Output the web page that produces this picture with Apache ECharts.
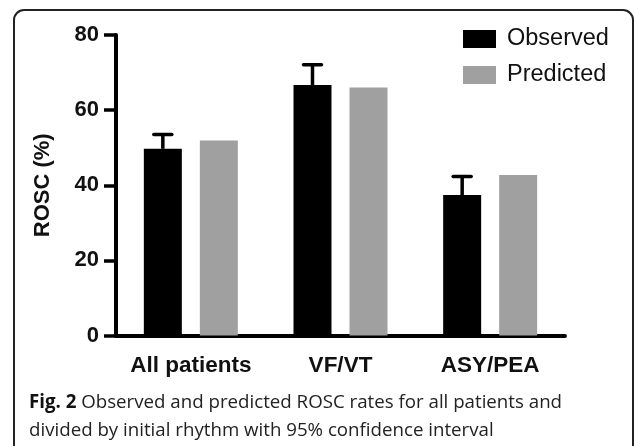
<!DOCTYPE html>
<html>
<head>
<meta charset="utf-8">
<script src="https://cdn.jsdelivr.net/npm/echarts@6/dist/echarts.min.js"></script>
<style>
html,body{margin:0;padding:0;background:#fff;}
#chart{width:634px;height:446px;}
</style>
</head>
<body>
<div id="chart"></div>
<script>
// ---- data ----
const categories = ['All patients', 'VF/VT', 'ASY/PEA'];
const observed = [49.7, 66.7, 37.4];
const observedUpperCI = [53.5, 72.1, 42.3];
const predicted = [51.9, 66.0, 42.7];
const yTicks = [0, 20, 40, 60, 80];
const seriesNames = ['Observed', 'Predicted'];
const captionBold = 'Fig. 2';
const captionLine1 = 'Observed and predicted ROSC rates for all patients and';
const captionLine2 = 'divided by initial rhythm with 95% confidence interval';

// ---- style constants ----
const BAR_W = 38;
const GAP_PX = 18;
const OBS_OFFSET = -(BAR_W + GAP_PX) / 2;

const chart = echarts.init(document.getElementById('chart'));

const errData = categories.map((c, i) => [i, observedUpperCI[i], observed[i]]);

const option = {
  animation: false,
  backgroundColor: '#fff',
  grid: { left: 116, right: 69, top: 35, bottom: 110.5 },
  legend: {
    orient: 'vertical',
    left: 463,
    top: 27,
    padding: 0,
    itemWidth: 33,
    itemHeight: 18,
    itemGap: 12,
    icon: 'rect',
    data: seriesNames,
    textStyle: { fontFamily: 'Liberation Sans', fontSize: 23.5, color: '#111', padding: [0, 0, 0, 6] }
  },
  xAxis: {
    type: 'category',
    data: categories,
    axisLine: { lineStyle: { color: '#000', width: 4 } },
    axisTick: { alignWithLabel: true, length: 12, lineStyle: { color: '#000', width: 4 } },
    axisLabel: { interval: 0, hideOverlap: false, margin: 19, color: '#111', fontFamily: 'Liberation Sans', fontWeight: 'bold', fontSize: 22.5 },
    splitLine: { show: false }
  },
  yAxis: {
    type: 'value',
    min: yTicks[0],
    max: yTicks[yTicks.length - 1],
    interval: yTicks[1] - yTicks[0],
    name: 'ROSC (%)',
    nameLocation: 'middle',
    nameGap: 62,
    nameTextStyle: { color: '#111', fontFamily: 'Liberation Sans', fontWeight: 'bold', fontSize: 22 },
    axisLine: { show: true, lineStyle: { color: '#000', width: 4 } },
    axisTick: { show: true, length: 12, lineStyle: { color: '#000', width: 3.5 } },
    axisLabel: { margin: 17, color: '#111', fontFamily: 'Liberation Sans', fontWeight: 'bold', fontSize: 22 },
    splitLine: { show: false }
  },
  series: [
    {
      name: seriesNames[0],
      type: 'bar',
      data: observed,
      barWidth: BAR_W,
      barGap: (GAP_PX / BAR_W * 100) + '%',
      itemStyle: { color: '#000' }
    },
    {
      name: seriesNames[1],
      type: 'bar',
      data: predicted,
      barWidth: BAR_W,
      itemStyle: { color: '#a0a0a0' }
    },
    {
      type: 'custom',
      data: errData,
      z: 5,
      renderItem: function (params, api) {
        const idx = api.value(0);
        const top = api.coord([idx, api.value(1)]);
        const base = api.coord([idx, api.value(2)]);
        const x = top[0] + OBS_OFFSET;
        return {
          type: 'group',
          children: [
            { type: 'line', shape: { x1: x, y1: base[1], x2: x, y2: top[1] }, style: { stroke: '#000', lineWidth: 3.5 } },
            { type: 'line', shape: { x1: x - 9, y1: top[1], x2: x + 9, y2: top[1] }, style: { stroke: '#000', lineWidth: 3.5, lineCap: 'round' } }
          ]
        };
      }
    }
  ],
  graphic: [
    {
      type: 'rect',
      shape: { x: 14, y: 10, width: 619, height: 470, r: 10 },
      style: { fill: 'none', stroke: '#222', lineWidth: 2 },
      silent: true
    },
    {
      type: 'text',
      left: 29,
      top: 389,
      style: {
        text: '{b|' + captionBold + '} ' + captionLine1 + '\n' + captionLine2,
        fontFamily: 'Open Sans',
        fontSize: 18.7,
        lineHeight: 28,
        fill: '#222',
        rich: {
          b: { fontFamily: 'Open Sans', fontWeight: 'bold', fontSize: 18.7, lineHeight: 28, fill: '#111' }
        }
      }
    }
  ]
};
chart.setOption(option);
</script>
</body>
</html>
